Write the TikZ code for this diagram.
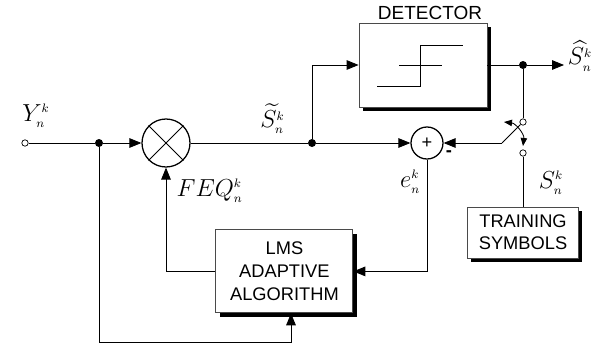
\documentclass[tikz,border=0pt]{standalone}
\usepackage{fix-cm}
\usepackage{amsmath, amssymb}
\usepackage{fontspec}
\setmainfont{Liberation Sans}
\usetikzlibrary{positioning, calc, arrows.meta, shapes.geometric, shadows}
\definecolor{Dark}{HTML}{000000}
\definecolor{Frame}{HTML}{4A4A4A}
\newcommand{\sigkn}[1]{#1^{\scriptscriptstyle k}_{\scriptscriptstyle n}}
\tikzset{
    blockbox/.style={rectangle, draw=Frame, line width=0.6pt, fill=white, align=center, font=\fontsize{13}{15.5}\selectfont, drop shadow={shadow xshift=0.09cm, shadow yshift=-0.09cm, fill=black, opacity=1}},
    opcircle/.style={circle, draw=Dark, line width=0.9pt, minimum size=1.2cm, inner sep=0pt},
    junction/.style={circle, fill=Dark, minimum size=0.2cm, inner sep=0pt},
    openport/.style={circle, draw=Dark, fill=white, minimum size=0.16cm, inner sep=0pt, line width=0.5pt},
    wire/.style={line width=0.6pt, color=Dark},
    arrow/.style={-{Triangle[length=0.3cm, width=0.24cm]}, line width=0.6pt, color=Dark},
    sig/.style={font=\fontsize{17.5}{20}\selectfont, inner sep=1pt},
}
\begin{document}
\begin{tikzpicture}
    \useasboundingbox (0,0) rectangle (15.25,8.625);
    % Blocchi
    \node[openport] (in) at (0.625,5.05) {};
    \node[junction] (j1) at (2.475,5.05) {};
    \node[opcircle] (mult) at (4.15,5.05) {};
    \node[junction] (j2) at (7.8,5.05) {};
    \node[opcircle, minimum size=0.8cm] (sum) at (10.675,5.05) {\fontsize{13}{13}\selectfont +};
    \node[blockbox, minimum width=3.2cm, minimum height=2.1cm] (det) at (10.575,7.0) {};
    \node[font=\fontsize{13.5}{15}\selectfont] (detlbl) at (10.75,8.3) {DETECTOR};
    \node[junction] (j3) at (13.075,7.0) {};
    \node[openport] (swtop) at (13.075,5.575) {};
    \node[openport] (swbot) at (13.075,4.8) {};
    \coordinate (pivot) at (12.55,5.05);
    \node[blockbox, minimum width=2.775cm, minimum height=1.275cm] (train) at (13.075,2.81) {TRAINING\\SYMBOLS};
    \node[blockbox, minimum width=3.425cm, minimum height=2.075cm, font=\fontsize{13}{16.3}\selectfont] (lms) at (7.11,1.84) {LMS\\ADAPTIVE\\ALGORITHM};
    \coordinate (shat) at (14.1,7.0);
    \coordinate (bot) at (2.475,0.075);

    % Moltiplicatore
    \draw[wire] (mult.north west) -- (mult.south east);
    \draw[wire] (mult.north east) -- (mult.south west);

    % Soglia del detector
    \draw[wire] ($(det.center)+(-1.15,-0.525)$) -- ++(1.075,0) -- ++(0,1.025) -- ++(1.075,0);
    \draw[wire] ($(det.center)+(-0.6,0)$) -- ++(1.075,0);

    % Collegamenti
    \draw[wire] (in) -- (j1);
    \draw[arrow] (j1) -- (mult);
    \draw[wire] (mult) -- (j2);
    \draw[arrow] (j2) -- (sum);
    \draw[arrow] (j2) |- (det.west);
    \draw[wire] (det.east) -- (j3);
    \draw[arrow] (j3) -- (shat);
    \draw[wire] (j3) -- (swtop);
    \draw[wire] (pivot) -- (swtop);
    \draw[arrow] (pivot) -- (sum);
    \draw[wire] (swbot) -- (train.north);
    \draw[arrow] (sum.south) |- (lms.east);
    \draw[arrow] (lms.west) -| (mult.south);
    \draw[wire] (j1) -- (bot);
    \draw[arrow] (bot) -| ($(lms.south)+(0.165,0)$);

    % Deviatore
    \coordinate (swa) at (12.6,5.575);
    \coordinate (swb) at (13.075,4.975);
    \draw[{Triangle[length=0.2cm, width=0.16cm]}-{Triangle[length=0.2cm, width=0.16cm]}, wire] (swa) to[bend left=45] (swb);

    % Etichette
    \node[sig] (ylbl) at (0.9,5.725) {$\sigkn{Y}$};
    \node[sig] (stlbl) at (6.81,5.66) {$\widetilde{\sigkn{S}}$};
    \node[sig] (shlbl) at (14.5,7.225) {$\widehat{\sigkn{S}}$};
    \node[sig] (feqlbl) at (5.24,3.85) {$\sigkn{FEQ}$};
    \node[sig] (elbl) at (10.25,4.075) {$\sigkn{e}$};
    \node[sig] (slbl) at (13.775,4.05) {$\sigkn{S}$};
    \node[font=\bfseries\fontsize{13}{13}\selectfont] (minus) at (11.225,4.775) {-};
\end{tikzpicture}
\end{document}
